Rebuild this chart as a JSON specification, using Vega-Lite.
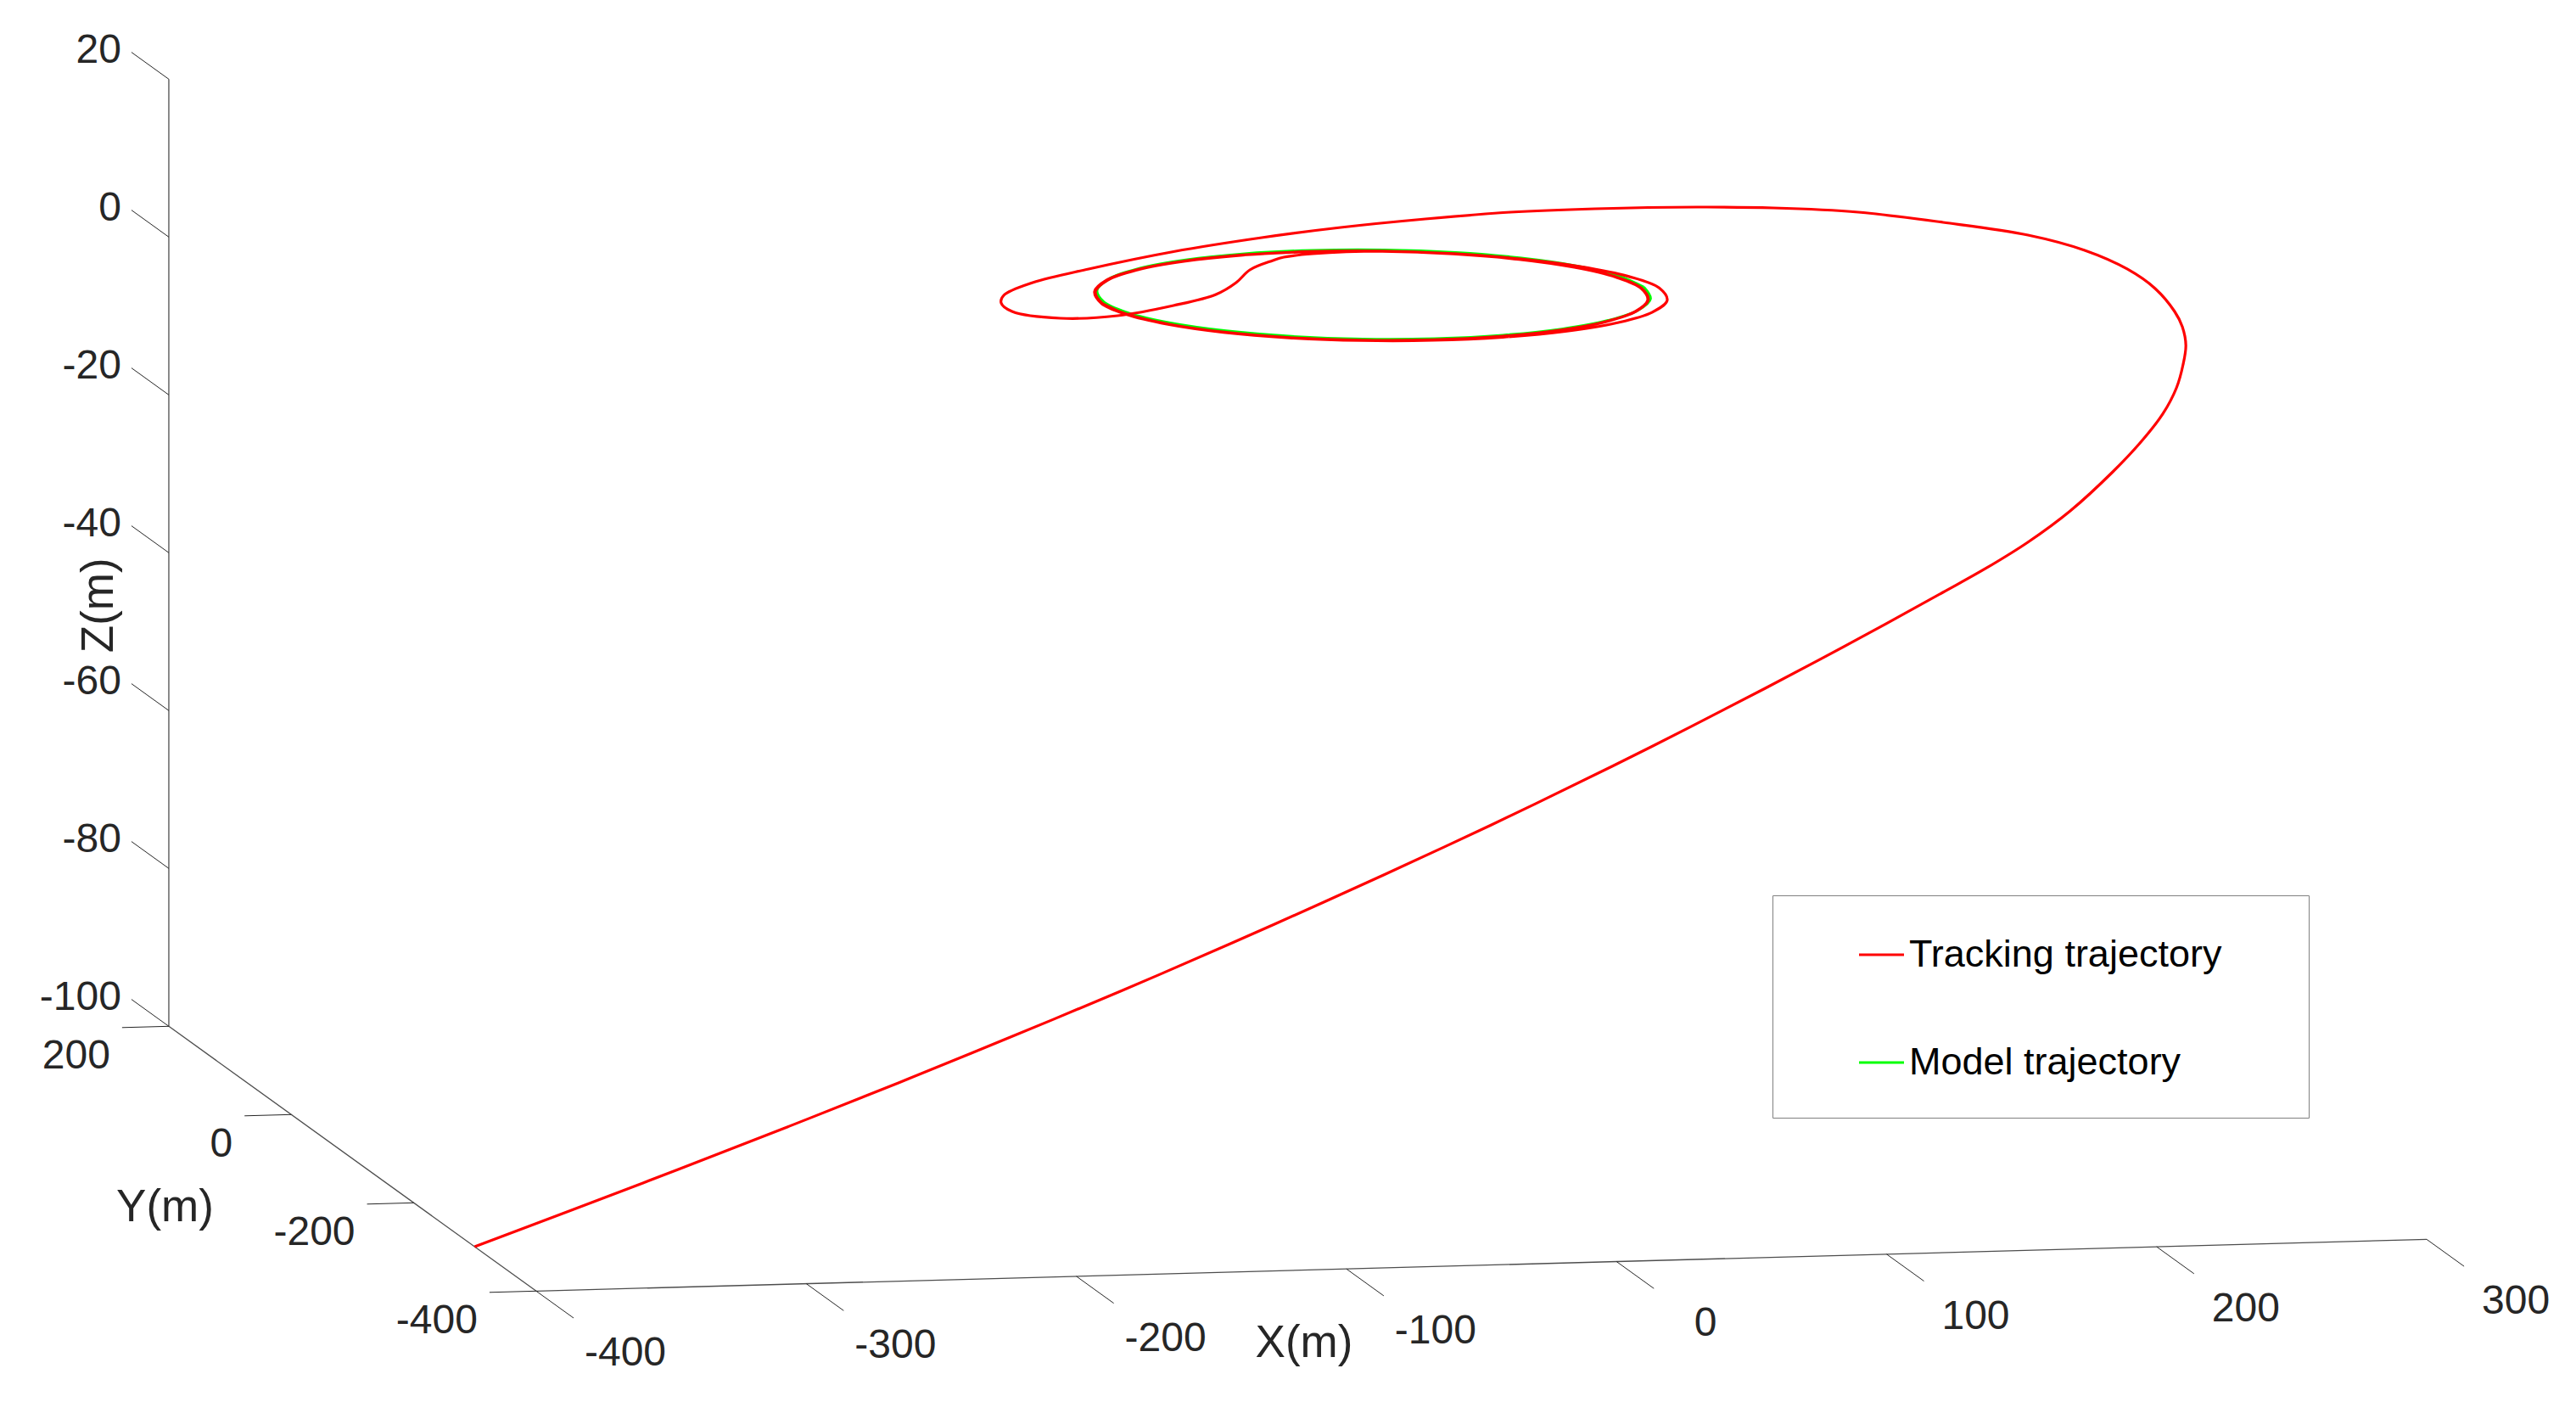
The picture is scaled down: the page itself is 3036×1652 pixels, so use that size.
{
  "$schema": "https://vega.github.io/schema/vega-lite/v6.json",
  "width": 3036,
  "height": 1652,
  "autosize": {"type": "fit", "contains": "padding"},
  "padding": 0,
  "background": "white",
  "config": {"view": {"stroke": null}, "font": "Liberation Sans"},
  "datasets": {
    "box": [
      {"axis": "X", "title": "X(m)", "X1": -400, "Y1": -400, "Z1": -100, "X2": 300, "Y2": -400, "Z2": -100},
      {"axis": "Y", "title": "Y(m)", "X1": -400, "Y1": -400, "Z1": -100, "X2": -400, "Y2": 200, "Z2": -100},
      {"axis": "Z", "title": "Z(m)", "X1": -400, "Y1": 200, "Z1": -100, "X2": -400, "Y2": 200, "Z2": 20}
    ],
    "xticks": [
      {"v": -400, "label": "-400"}, {"v": -300, "label": "-300"}, {"v": -200, "label": "-200"}, {"v": -100, "label": "-100"},
      {"v": 0, "label": "0"}, {"v": 100, "label": "100"}, {"v": 200, "label": "200"}, {"v": 300, "label": "300"}
    ],
    "yticks": [
      {"v": -400, "label": "-400"}, {"v": -200, "label": "-200"}, {"v": 0, "label": "0"}, {"v": 200, "label": "200"}
    ],
    "zticks": [
      {"v": -100, "label": "-100"}, {"v": -80, "label": "-80"}, {"v": -60, "label": "-60"}, {"v": -40, "label": "-40"},
      {"v": -20, "label": "-20"}, {"v": 0, "label": "0"}, {"v": 20, "label": "20"}
    ],
    "traj": [
      {"series": "Tracking trajectory", "i": 0, "X": -400, "Y": -299.4, "Z": -100},
      {"series": "Tracking trajectory", "i": 1, "X": -359.9, "Y": -276, "Z": -97.2},
      {"series": "Tracking trajectory", "i": 2, "X": -316.6, "Y": -264.8, "Z": -92.9},
      {"series": "Tracking trajectory", "i": 3, "X": -275.1, "Y": -262.1, "Z": -88},
      {"series": "Tracking trajectory", "i": 4, "X": -234.7, "Y": -264.2, "Z": -82.7},
      {"series": "Tracking trajectory", "i": 5, "X": -194.6, "Y": -268.5, "Z": -77.1},
      {"series": "Tracking trajectory", "i": 6, "X": -155, "Y": -274.3, "Z": -71.3},
      {"series": "Tracking trajectory", "i": 7, "X": -115.9, "Y": -282, "Z": -65.2},
      {"series": "Tracking trajectory", "i": 8, "X": -82.8, "Y": -287.1, "Z": -60},
      {"series": "Tracking trajectory", "i": 9, "X": -40, "Y": -294.7, "Z": -53},
      {"series": "Tracking trajectory", "i": 10, "X": -7.2, "Y": -300, "Z": -47.5},
      {"series": "Tracking trajectory", "i": 11, "X": 34.3, "Y": -305.3, "Z": -40.4},
      {"series": "Tracking trajectory", "i": 12, "X": 75.7, "Y": -309.7, "Z": -33.1},
      {"series": "Tracking trajectory", "i": 13, "X": 107.3, "Y": -310.3, "Z": -27.6},
      {"series": "Tracking trajectory", "i": 14, "X": 140.6, "Y": -312.9, "Z": -21.4},
      {"series": "Tracking trajectory", "i": 15, "X": 156.6, "Y": -311.8, "Z": -18.6},
      {"series": "Tracking trajectory", "i": 16, "X": 173, "Y": -308.6, "Z": -15.6},
      {"series": "Tracking trajectory", "i": 17, "X": 191.2, "Y": -297.7, "Z": -12.4},
      {"series": "Tracking trajectory", "i": 18, "X": 212.4, "Y": -273.6, "Z": -9},
      {"series": "Tracking trajectory", "i": 19, "X": 227.7, "Y": -251.8, "Z": -6.6},
      {"series": "Tracking trajectory", "i": 20, "X": 241.2, "Y": -228.1, "Z": -4.5},
      {"series": "Tracking trajectory", "i": 21, "X": 252.5, "Y": -200.8, "Z": -2.8},
      {"series": "Tracking trajectory", "i": 22, "X": 260.7, "Y": -175.3, "Z": -1.4},
      {"series": "Tracking trajectory", "i": 23, "X": 265.9, "Y": -157, "Z": 0},
      {"series": "Tracking trajectory", "i": 24, "X": 273.9, "Y": -116, "Z": 0},
      {"series": "Tracking trajectory", "i": 25, "X": 278.7, "Y": -82.2, "Z": 0},
      {"series": "Tracking trajectory", "i": 26, "X": 283.1, "Y": -31, "Z": 0},
      {"series": "Tracking trajectory", "i": 27, "X": 282.8, "Y": 13.3, "Z": 0},
      {"series": "Tracking trajectory", "i": 28, "X": 276.9, "Y": 56.6, "Z": 0},
      {"series": "Tracking trajectory", "i": 29, "X": 264.2, "Y": 93.3, "Z": 0},
      {"series": "Tracking trajectory", "i": 30, "X": 240.2, "Y": 126.2, "Z": 0},
      {"series": "Tracking trajectory", "i": 31, "X": 215, "Y": 153.5, "Z": 0},
      {"series": "Tracking trajectory", "i": 32, "X": 186.8, "Y": 167.8, "Z": 0},
      {"series": "Tracking trajectory", "i": 33, "X": 160, "Y": 174.2, "Z": 0},
      {"series": "Tracking trajectory", "i": 34, "X": 122.8, "Y": 176.6, "Z": 0},
      {"series": "Tracking trajectory", "i": 35, "X": 90.9, "Y": 174.2, "Z": 0},
      {"series": "Tracking trajectory", "i": 36, "X": 57.2, "Y": 164.5, "Z": 0},
      {"series": "Tracking trajectory", "i": 37, "X": 22.8, "Y": 151, "Z": 0},
      {"series": "Tracking trajectory", "i": 38, "X": -10.4, "Y": 133.5, "Z": 0},
      {"series": "Tracking trajectory", "i": 39, "X": -48.8, "Y": 108.2, "Z": 0},
      {"series": "Tracking trajectory", "i": 40, "X": -87.7, "Y": 75.3, "Z": 0},
      {"series": "Tracking trajectory", "i": 41, "X": -114.4, "Y": 48.9, "Z": 0},
      {"series": "Tracking trajectory", "i": 42, "X": -131, "Y": 22.9, "Z": 0},
      {"series": "Tracking trajectory", "i": 43, "X": -135.7, "Y": 6.4, "Z": 0},
      {"series": "Tracking trajectory", "i": 44, "X": -136, "Y": -12.8, "Z": 0},
      {"series": "Tracking trajectory", "i": 45, "X": -122.1, "Y": -30.5, "Z": 0},
      {"series": "Tracking trajectory", "i": 46, "X": -100.5, "Y": -28.4, "Z": 0},
      {"series": "Tracking trajectory", "i": 47, "X": -75.5, "Y": -9.5, "Z": 0},
      {"series": "Tracking trajectory", "i": 48, "X": -54.9, "Y": 12.1, "Z": 0},
      {"series": "Tracking trajectory", "i": 49, "X": -41.8, "Y": 36.8, "Z": 0},
      {"series": "Tracking trajectory", "i": 50, "X": -30.6, "Y": 63.8, "Z": 0},
      {"series": "Tracking trajectory", "i": 51, "X": -17.8, "Y": 82.8, "Z": 0},
      {"series": "Tracking trajectory", "i": 52, "X": -12.2, "Y": 89.5, "Z": 0},
      {"series": "Tracking trajectory", "i": 53, "X": -0.2, "Y": 95.2, "Z": 0},
      {"series": "Tracking trajectory", "i": 54, "X": 25.9, "Y": 96.6, "Z": 0},
      {"series": "Tracking trajectory", "i": 55, "X": 50.2, "Y": 86.9, "Z": 0},
      {"series": "Tracking trajectory", "i": 56, "X": 71.4, "Y": 71.4, "Z": 0},
      {"series": "Tracking trajectory", "i": 57, "X": 88.8, "Y": 51.3, "Z": 0},
      {"series": "Tracking trajectory", "i": 58, "X": 101.2, "Y": 27.1, "Z": 0},
      {"series": "Tracking trajectory", "i": 59, "X": 106.5, "Y": 0, "Z": 0},
      {"series": "Tracking trajectory", "i": 60, "X": 103.2, "Y": -27.6, "Z": 0},
      {"series": "Tracking trajectory", "i": 61, "X": 91.8, "Y": -53, "Z": 0},
      {"series": "Tracking trajectory", "i": 62, "X": 73.9, "Y": -73.9, "Z": 0},
      {"series": "Tracking trajectory", "i": 63, "X": 51.5, "Y": -89.2, "Z": 0},
      {"series": "Tracking trajectory", "i": 64, "X": 26.3, "Y": -98.3, "Z": 0},
      {"series": "Tracking trajectory", "i": 65, "X": 0, "Y": -101, "Z": 0},
      {"series": "Tracking trajectory", "i": 66, "X": -26, "Y": -97.1, "Z": 0},
      {"series": "Tracking trajectory", "i": 67, "X": -50.2, "Y": -86.9, "Z": 0},
      {"series": "Tracking trajectory", "i": 68, "X": -70.9, "Y": -70.9, "Z": 0},
      {"series": "Tracking trajectory", "i": 69, "X": -86.7, "Y": -50.1, "Z": 0},
      {"series": "Tracking trajectory", "i": 70, "X": -96.7, "Y": -25.9, "Z": 0},
      {"series": "Tracking trajectory", "i": 71, "X": -100.1, "Y": 0, "Z": 0},
      {"series": "Tracking trajectory", "i": 72, "X": -96.7, "Y": 25.9, "Z": 0},
      {"series": "Tracking trajectory", "i": 73, "X": -86.7, "Y": 50.1, "Z": 0},
      {"series": "Tracking trajectory", "i": 74, "X": -70.8, "Y": 70.8, "Z": 0},
      {"series": "Tracking trajectory", "i": 75, "X": -50.1, "Y": 86.7, "Z": 0},
      {"series": "Tracking trajectory", "i": 76, "X": -25.9, "Y": 96.7, "Z": 0},
      {"series": "Tracking trajectory", "i": 77, "X": 0, "Y": 100.1, "Z": 0},
      {"series": "Tracking trajectory", "i": 78, "X": 25.9, "Y": 96.7, "Z": 0},
      {"series": "Tracking trajectory", "i": 79, "X": 49.9, "Y": 86.4, "Z": 0},
      {"series": "Tracking trajectory", "i": 80, "X": 70.6, "Y": 70.6, "Z": 0},
      {"series": "Tracking trajectory", "i": 81, "X": 86.4, "Y": 49.9, "Z": 0},
      {"series": "Tracking trajectory", "i": 82, "X": 96.4, "Y": 25.8, "Z": 0},
      {"series": "Tracking trajectory", "i": 83, "X": 99.8, "Y": 0, "Z": 0},
      {"series": "Tracking trajectory", "i": 84, "X": 96.4, "Y": -25.8, "Z": 0},
      {"series": "Tracking trajectory", "i": 85, "X": 86.4, "Y": -49.9, "Z": 0},
      {"series": "Tracking trajectory", "i": 86, "X": 70.6, "Y": -70.6, "Z": 0},
      {"series": "Tracking trajectory", "i": 87, "X": 49.9, "Y": -86.4, "Z": 0},
      {"series": "Tracking trajectory", "i": 88, "X": 25.8, "Y": -96.4, "Z": 0},
      {"series": "Tracking trajectory", "i": 89, "X": 0, "Y": -99.8, "Z": 0},
      {"series": "Tracking trajectory", "i": 90, "X": -25.8, "Y": -96.4, "Z": 0},
      {"series": "Tracking trajectory", "i": 91, "X": -49.9, "Y": -86.4, "Z": 0},
      {"series": "Tracking trajectory", "i": 92, "X": -70.6, "Y": -70.6, "Z": 0},
      {"series": "Tracking trajectory", "i": 93, "X": -86.4, "Y": -49.9, "Z": 0},
      {"series": "Tracking trajectory", "i": 94, "X": -96.4, "Y": -25.8, "Z": 0},
      {"series": "Tracking trajectory", "i": 95, "X": -99.8, "Y": 0, "Z": 0},
      {"series": "Tracking trajectory", "i": 96, "X": -96.4, "Y": 25.8, "Z": 0},
      {"series": "Tracking trajectory", "i": 97, "X": -86.4, "Y": 49.9, "Z": 0},
      {"series": "Tracking trajectory", "i": 98, "X": -70.6, "Y": 70.6, "Z": 0},
      {"series": "Tracking trajectory", "i": 99, "X": -49.9, "Y": 86.4, "Z": 0},
      {"series": "Tracking trajectory", "i": 100, "X": -25.8, "Y": 96.4, "Z": 0},
      {"series": "Tracking trajectory", "i": 101, "X": 0, "Y": 99.8, "Z": 0},
      {"series": "Tracking trajectory", "i": 102, "X": 25.8, "Y": 96.4, "Z": 0},
      {"series": "Tracking trajectory", "i": 103, "X": 50, "Y": 86.6, "Z": 0},
      {"series": "Tracking trajectory", "i": 104, "X": 70.7, "Y": 70.7, "Z": 0},
      {"series": "Tracking trajectory", "i": 105, "X": 86.6, "Y": 50, "Z": 0},
      {"series": "Tracking trajectory", "i": 106, "X": 96.6, "Y": 25.9, "Z": 0},
      {"series": "Tracking trajectory", "i": 107, "X": 100, "Y": 0, "Z": 0},
      {"series": "Tracking trajectory", "i": 108, "X": 96.6, "Y": -25.9, "Z": 0},
      {"series": "Tracking trajectory", "i": 109, "X": 86.6, "Y": -50, "Z": 0},
      {"series": "Tracking trajectory", "i": 110, "X": 70.7, "Y": -70.7, "Z": 0},
      {"series": "Tracking trajectory", "i": 111, "X": 50, "Y": -86.6, "Z": 0},
      {"series": "Tracking trajectory", "i": 112, "X": 25.9, "Y": -96.6, "Z": 0},
      {"series": "Tracking trajectory", "i": 113, "X": 0, "Y": -100, "Z": 0},
      {"series": "Tracking trajectory", "i": 114, "X": -25.9, "Y": -96.6, "Z": 0},
      {"series": "Tracking trajectory", "i": 115, "X": -50, "Y": -86.6, "Z": 0},
      {"series": "Tracking trajectory", "i": 116, "X": -70.7, "Y": -70.7, "Z": 0},
      {"series": "Tracking trajectory", "i": 117, "X": -86.6, "Y": -50, "Z": 0},
      {"series": "Tracking trajectory", "i": 118, "X": -96.6, "Y": -25.9, "Z": 0},
      {"series": "Tracking trajectory", "i": 119, "X": -100, "Y": 0, "Z": 0},
      {"series": "Model trajectory", "i": 0, "X": 100.8, "Y": 0, "Z": 0.15},
      {"series": "Model trajectory", "i": 1, "X": 97.4, "Y": 25.9, "Z": 0.15},
      {"series": "Model trajectory", "i": 2, "X": 87.4, "Y": 50, "Z": 0.15},
      {"series": "Model trajectory", "i": 3, "X": 71.5, "Y": 70.7, "Z": 0.15},
      {"series": "Model trajectory", "i": 4, "X": 50.8, "Y": 86.6, "Z": 0.15},
      {"series": "Model trajectory", "i": 5, "X": 26.7, "Y": 96.6, "Z": 0.15},
      {"series": "Model trajectory", "i": 6, "X": 0.8, "Y": 100, "Z": 0.15},
      {"series": "Model trajectory", "i": 7, "X": -25.1, "Y": 96.6, "Z": 0.15},
      {"series": "Model trajectory", "i": 8, "X": -49.2, "Y": 86.6, "Z": 0.15},
      {"series": "Model trajectory", "i": 9, "X": -69.9, "Y": 70.7, "Z": 0.15},
      {"series": "Model trajectory", "i": 10, "X": -85.8, "Y": 50, "Z": 0.15},
      {"series": "Model trajectory", "i": 11, "X": -95.8, "Y": 25.9, "Z": 0.15},
      {"series": "Model trajectory", "i": 12, "X": -99.2, "Y": 0, "Z": 0.15},
      {"series": "Model trajectory", "i": 13, "X": -95.8, "Y": -25.9, "Z": 0.15},
      {"series": "Model trajectory", "i": 14, "X": -85.8, "Y": -50, "Z": 0.15},
      {"series": "Model trajectory", "i": 15, "X": -69.9, "Y": -70.7, "Z": 0.15},
      {"series": "Model trajectory", "i": 16, "X": -49.2, "Y": -86.6, "Z": 0.15},
      {"series": "Model trajectory", "i": 17, "X": -25.1, "Y": -96.6, "Z": 0.15},
      {"series": "Model trajectory", "i": 18, "X": 0.8, "Y": -100, "Z": 0.15},
      {"series": "Model trajectory", "i": 19, "X": 26.7, "Y": -96.6, "Z": 0.15},
      {"series": "Model trajectory", "i": 20, "X": 50.8, "Y": -86.6, "Z": 0.15},
      {"series": "Model trajectory", "i": 21, "X": 71.5, "Y": -70.7, "Z": 0.15},
      {"series": "Model trajectory", "i": 22, "X": 87.4, "Y": -50, "Z": 0.15},
      {"series": "Model trajectory", "i": 23, "X": 97.4, "Y": -25.9, "Z": 0.15},
      {"series": "Model trajectory", "i": 24, "X": 100.8, "Y": 0, "Z": 0.15}
    ]
  },
  "layer": [
    {
      "data": {"name": "box"},
      "transform": [
        {"calculate": "1616.5 + 3.183*datum.X1 - 0.7217*datum.Y1", "as": "px"},
        {"calculate": "348.5 - 0.087*datum.X1 - 0.52*datum.Y1 - 9.3*datum.Z1", "as": "py"},
        {"calculate": "1616.5 + 3.183*datum.X2 - 0.7217*datum.Y2", "as": "px2"},
        {"calculate": "348.5 - 0.087*datum.X2 - 0.52*datum.Y2 - 9.3*datum.Z2", "as": "py2"},
        {"calculate": "(datum.px + datum.px2)/2", "as": "mx"},
        {"calculate": "(datum.py + datum.py2)/2", "as": "my"}
      ],
      "layer": [
        {
          "mark": {"type": "rule", "stroke": "#4d4d4d", "strokeWidth": 1.3},
          "encoding": {
            "x": {"field": "px", "type": "quantitative", "scale": {"type": "linear", "domain": [0, 3036], "nice": false, "zero": false}, "axis": null},
            "y": {"field": "py", "type": "quantitative", "scale": {"type": "linear", "domain": [0, 1652], "nice": false, "zero": false, "reverse": true}, "axis": null},
            "x2": {"field": "px2"},
            "y2": {"field": "py2"}
          }
        },
        {
          "transform": [{"filter": "datum.axis === 'X'"}],
          "mark": {"type": "text", "fontSize": 53, "font": "Liberation Sans", "color": "#262626", "align": "center", "baseline": "middle", "dx": -209, "dy": 92},
          "encoding": {
            "x": {"field": "mx", "type": "quantitative", "scale": {"type": "linear", "domain": [0, 3036], "nice": false, "zero": false}, "axis": null},
            "y": {"field": "my", "type": "quantitative", "scale": {"type": "linear", "domain": [0, 1652], "nice": false, "zero": false, "reverse": true}, "axis": null},
            "text": {"field": "title"}
          }
        },
        {
          "transform": [{"filter": "datum.axis === 'Y'"}],
          "mark": {"type": "text", "fontSize": 53, "font": "Liberation Sans", "color": "#262626", "align": "center", "baseline": "middle", "dx": -221, "dy": 58},
          "encoding": {
            "x": {"field": "mx", "type": "quantitative", "scale": {"type": "linear", "domain": [0, 3036], "nice": false, "zero": false}, "axis": null},
            "y": {"field": "my", "type": "quantitative", "scale": {"type": "linear", "domain": [0, 1652], "nice": false, "zero": false, "reverse": true}, "axis": null},
            "text": {"field": "title"}
          }
        },
        {
          "transform": [{"filter": "datum.axis === 'Z'"}],
          "mark": {"type": "text", "fontSize": 53, "font": "Liberation Sans", "color": "#262626", "align": "center", "baseline": "middle", "angle": 270, "dx": -62, "dy": -82},
          "encoding": {
            "x": {"field": "mx", "type": "quantitative", "scale": {"type": "linear", "domain": [0, 3036], "nice": false, "zero": false}, "axis": null},
            "y": {"field": "my", "type": "quantitative", "scale": {"type": "linear", "domain": [0, 1652], "nice": false, "zero": false, "reverse": true}, "axis": null},
            "text": {"field": "title"}
          }
        }
      ]
    },
    {
      "data": {"name": "xticks"},
      "transform": [
        {"calculate": "1616.5 + 3.183*datum.v - 0.7217*(-400)", "as": "px"},
        {"calculate": "348.5 - 0.087*datum.v - 0.52*(-400) - 9.3*(-100)", "as": "py"},
        {"calculate": "1616.5 + 3.183*datum.v - 0.7217*(-461)", "as": "px2"},
        {"calculate": "348.5 - 0.087*datum.v - 0.52*(-461) - 9.3*(-100)", "as": "py2"}
      ],
      "layer": [
        {
          "mark": {"type": "rule", "stroke": "#262626", "strokeWidth": 1},
          "encoding": {
            "x": {"field": "px", "type": "quantitative", "scale": {"type": "linear", "domain": [0, 3036], "nice": false, "zero": false}, "axis": null},
            "y": {"field": "py", "type": "quantitative", "scale": {"type": "linear", "domain": [0, 1652], "nice": false, "zero": false, "reverse": true}, "axis": null},
            "x2": {"field": "px2"},
            "y2": {"field": "py2"}
          }
        },
        {
          "mark": {"type": "text", "fontSize": 48, "font": "Liberation Sans", "color": "#262626", "align": "center", "baseline": "middle", "dx": 61, "dy": 42},
          "encoding": {
            "x": {"field": "px2", "type": "quantitative", "scale": {"type": "linear", "domain": [0, 3036], "nice": false, "zero": false}, "axis": null},
            "y": {"field": "py2", "type": "quantitative", "scale": {"type": "linear", "domain": [0, 1652], "nice": false, "zero": false, "reverse": true}, "axis": null},
            "text": {"field": "label"}
          }
        }
      ]
    },
    {
      "data": {"name": "yticks"},
      "transform": [
        {"calculate": "1616.5 + 3.183*(-400) - 0.7217*datum.v", "as": "px"},
        {"calculate": "348.5 - 0.087*(-400) - 0.52*datum.v - 9.3*(-100)", "as": "py"},
        {"calculate": "1616.5 + 3.183*(-417.3) - 0.7217*datum.v", "as": "px2"},
        {"calculate": "348.5 - 0.087*(-417.3) - 0.52*datum.v - 9.3*(-100)", "as": "py2"}
      ],
      "layer": [
        {
          "mark": {"type": "rule", "stroke": "#262626", "strokeWidth": 1},
          "encoding": {
            "x": {"field": "px", "type": "quantitative", "scale": {"type": "linear", "domain": [0, 3036], "nice": false, "zero": false}, "axis": null},
            "y": {"field": "py", "type": "quantitative", "scale": {"type": "linear", "domain": [0, 1652], "nice": false, "zero": false, "reverse": true}, "axis": null},
            "x2": {"field": "px2"},
            "y2": {"field": "py2"}
          }
        },
        {
          "mark": {"type": "text", "fontSize": 48, "font": "Liberation Sans", "color": "#262626", "align": "right", "baseline": "middle", "dx": -14, "dy": 34},
          "encoding": {
            "x": {"field": "px2", "type": "quantitative", "scale": {"type": "linear", "domain": [0, 3036], "nice": false, "zero": false}, "axis": null},
            "y": {"field": "py2", "type": "quantitative", "scale": {"type": "linear", "domain": [0, 1652], "nice": false, "zero": false, "reverse": true}, "axis": null},
            "text": {"field": "label"}
          }
        }
      ]
    },
    {
      "data": {"name": "zticks"},
      "transform": [
        {"calculate": "1616.5 + 3.183*(-400) - 0.7217*200", "as": "px"},
        {"calculate": "348.5 - 0.087*(-400) - 0.52*200 - 9.3*datum.v", "as": "py"},
        {"calculate": "1616.5 + 3.183*(-400) - 0.7217*261", "as": "px2"},
        {"calculate": "348.5 - 0.087*(-400) - 0.52*261 - 9.3*datum.v", "as": "py2"}
      ],
      "layer": [
        {
          "mark": {"type": "rule", "stroke": "#262626", "strokeWidth": 1},
          "encoding": {
            "x": {"field": "px", "type": "quantitative", "scale": {"type": "linear", "domain": [0, 3036], "nice": false, "zero": false}, "axis": null},
            "y": {"field": "py", "type": "quantitative", "scale": {"type": "linear", "domain": [0, 1652], "nice": false, "zero": false, "reverse": true}, "axis": null},
            "x2": {"field": "px2"},
            "y2": {"field": "py2"}
          }
        },
        {
          "mark": {"type": "text", "fontSize": 48, "font": "Liberation Sans", "color": "#262626", "align": "right", "baseline": "middle", "dx": -12, "dy": -2},
          "encoding": {
            "x": {"field": "px2", "type": "quantitative", "scale": {"type": "linear", "domain": [0, 3036], "nice": false, "zero": false}, "axis": null},
            "y": {"field": "py2", "type": "quantitative", "scale": {"type": "linear", "domain": [0, 1652], "nice": false, "zero": false, "reverse": true}, "axis": null},
            "text": {"field": "label"}
          }
        }
      ]
    },
    {
      "data": {"name": "traj"},
      "transform": [
        {"filter": "datum.series === 'Model trajectory'"},
        {"calculate": "1616.5 + 3.183*datum.X - 0.7217*datum.Y", "as": "px"},
        {"calculate": "348.5 - 0.087*datum.X - 0.52*datum.Y - 9.3*datum.Z", "as": "py"}
      ],
      "mark": {"type": "line", "strokeWidth": 3.2, "interpolate": "catmull-rom"},
      "encoding": {
        "x": {"field": "px", "type": "quantitative", "scale": {"type": "linear", "domain": [0, 3036], "nice": false, "zero": false}, "axis": null},
        "y": {"field": "py", "type": "quantitative", "scale": {"type": "linear", "domain": [0, 1652], "nice": false, "zero": false, "reverse": true}, "axis": null},
        "order": {"field": "i", "type": "quantitative"},
        "color": {
          "field": "series", "type": "nominal",
          "scale": {"domain": ["Tracking trajectory", "Model trajectory"], "range": ["#ff0000", "#00ff00"]},
          "legend": {"title": " ", "titleOrient": "right", "titleFontSize": 45, "titlePadding": 61, "titleFont": "Liberation Sans", "orient": "none", "legendX": 2089, "legendY": 1055, "padding": 41.5, "strokeColor": "#808080", "fillColor": "#ffffff", "symbolType": "stroke", "symbolSize": 2809, "symbolStrokeWidth": 3.2, "symbolOffset": 58.5, "labelOffset": 4, "labelFontSize": 45, "labelFont": "Liberation Sans", "labelColor": "#000000", "labelLimit": 1000, "rowPadding": 75}
        }
      }
    },
    {
      "data": {"name": "traj"},
      "transform": [
        {"filter": "datum.series === 'Tracking trajectory'"},
        {"calculate": "1616.5 + 3.183*datum.X - 0.7217*datum.Y", "as": "px"},
        {"calculate": "348.5 - 0.087*datum.X - 0.52*datum.Y - 9.3*datum.Z", "as": "py"}
      ],
      "mark": {"type": "line", "strokeWidth": 3.2, "interpolate": "catmull-rom"},
      "encoding": {
        "x": {"field": "px", "type": "quantitative", "scale": {"type": "linear", "domain": [0, 3036], "nice": false, "zero": false}, "axis": null},
        "y": {"field": "py", "type": "quantitative", "scale": {"type": "linear", "domain": [0, 1652], "nice": false, "zero": false, "reverse": true}, "axis": null},
        "order": {"field": "i", "type": "quantitative"},
        "color": {
          "field": "series", "type": "nominal",
          "scale": {"domain": ["Tracking trajectory", "Model trajectory"], "range": ["#ff0000", "#00ff00"]},
          "legend": {"title": " ", "titleOrient": "right", "titleFontSize": 45, "titlePadding": 61, "titleFont": "Liberation Sans", "orient": "none", "legendX": 2089, "legendY": 1055, "padding": 41.5, "strokeColor": "#808080", "fillColor": "#ffffff", "symbolType": "stroke", "symbolSize": 2809, "symbolStrokeWidth": 3.2, "symbolOffset": 58.5, "labelOffset": 4, "labelFontSize": 45, "labelFont": "Liberation Sans", "labelColor": "#000000", "labelLimit": 1000, "rowPadding": 75}
        }
      }
    }
  ]
}
